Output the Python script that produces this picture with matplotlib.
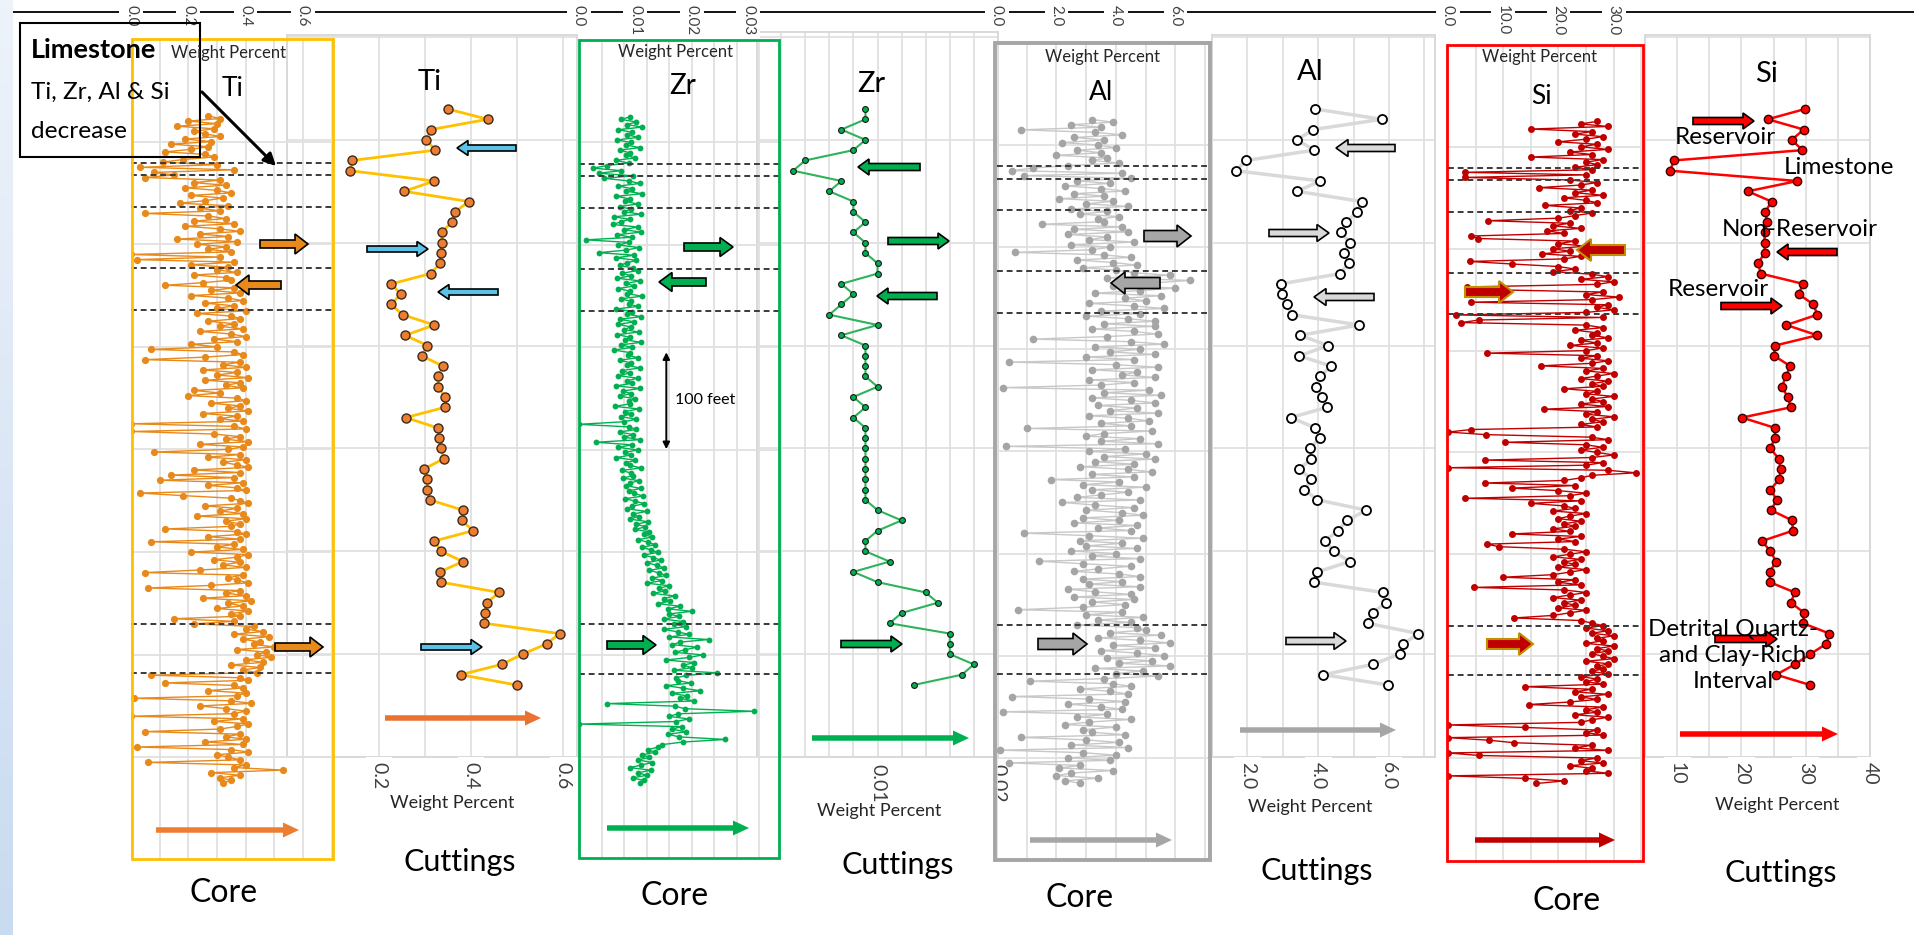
import matplotlib
matplotlib.use("Agg")
import matplotlib.pyplot as plt
import numpy as np
from matplotlib.patches import Rectangle, FancyArrow, FancyArrowPatch
from matplotlib.lines import Line2D
from matplotlib.transforms import Affine2D, blended_transform_factory

W, H = 1915, 935
plt.rcParams["font.family"] = ["Lato", "DejaVu Sans"]

# relative depth of the samples, feet
core_depth = [
    105, 107.5, 110, 112.5, 115, 117.5, 120, 122.5, 125, 127.5, 130, 132.5, 135, 137.5, 140, 142.5, 145, 147.5, 150, 152.5,
    155, 157.5, 160, 162.5, 165, 167.5, 170, 172.5, 175, 177.5, 180, 182.5, 185, 187.5, 190, 192.5, 195, 197.5, 200, 202.5,
    205, 207.5, 210, 212.5, 215, 217.5, 220, 222.5, 225, 227.5, 230, 232.5, 235, 237.5, 240, 242.5, 245, 247.5, 250, 252.5,
    255, 257.5, 260, 262.5, 265, 267.5, 270, 272.5, 275, 277.5, 280, 282.5, 285, 287.5, 290, 292.5, 295, 297.5, 300, 302.5,
    305, 307.5, 310, 312.5, 315, 317.5, 320, 322.5, 325, 327.5, 330, 332.5, 335, 337.5, 340, 342.5, 345, 347.5, 350, 352.5,
    355, 357.5, 360, 362.5, 365, 367.5, 370, 372.5, 375, 377.5, 380, 382.5, 385, 387.5, 390, 392.5, 395, 397.5, 400, 402.5,
    405, 407.5, 410, 412.5, 415, 417.5, 420, 422.5, 425, 427.5, 430, 432.5, 435, 437.5, 440, 442.5, 445, 447.5, 450, 452.5,
    455, 457.5, 460, 462.5, 465, 467.5, 470, 472.5, 475, 477.5, 480, 482.5, 485, 487.5, 490, 492.5, 495, 497.5, 500, 502.5,
    505, 507.5, 510, 512.5, 515, 517.5, 520, 522.5, 525, 527.5, 530, 532.5, 535, 537.5, 540, 542.5, 545, 547.5, 550, 552.5,
    555, 557.5, 560, 562.5, 565, 567.5, 570, 572.5, 575, 577.5, 580, 582.5, 585, 587.5, 590, 592.5, 595, 597.5, 600, 602.5,
    605, 607.5, 610, 612.5, 615, 617.5, 620, 622.5, 625, 627.5, 630, 632.5, 635, 637.5, 640, 642.5, 645, 647.5, 650, 652.5,
    655, 657.5, 660, 662.5, 665, 667.5, 670, 672.5, 675, 677.5, 680, 682.5, 685, 687.5, 690, 692.5, 695, 697.5, 700, 702.5,
    705, 707.5, 710, 712.5, 715, 717.5, 720, 722.5, 725, 727.5, 730, 732.5, 735, 737.5, 740, 742.5, 745, 747.5, 750, 752.5,
    755]
cut_depth = [100, 110, 120, 130, 140, 150, 160, 170, 180, 190, 200, 210, 220, 230, 240, 250,
             260, 270, 280, 290, 300, 310, 320, 330, 340, 350, 360, 370, 380, 390, 400, 410,
             420, 430, 440, 450, 460, 470, 480, 490, 500, 510, 520, 530, 540, 550, 560, 570,
             580, 590, 600, 610, 620, 630, 640, 650, 660]

# core, weight percent
ti_core = [
    0.27, 0.31, 0.20, 0.30, 0.16, 0.29, 0.22, 0.26, 0.31, 0.19, 0.28, 0.14, 0.27, 0.21, 0.12, 0.26, 0.29, 0.18, 0.11, 0.30,
    0.03, 0.36, 0.08, 0.15, 0.05, 0.31, 0.22, 0.33, 0.19, 0.30, 0.35, 0.21, 0.32, 0.26, 0.17, 0.34, 0.24, 0.31, 0.05, 0.27,
    0.33, 0.22, 0.36, 0.19, 0.31, 0.38, 0.24, 0.34, 0.16, 0.37, 0.23, 0.33, 0.27, 0.35, 0.00, 0.31, 0.02, 0.36, 0.21, 0.34,
    0.30, 0.37, 0.22, 0.33, 0.35, 0.25, 0.12, 0.36, 0.28, 0.38, 0.21, 0.34, 0.39, 0.26, 0.36, 0.30, 0.40, 0.23, 0.35, 0.38,
    0.27, 0.36, 0.31, 0.39, 0.24, 0.35, 0.40, 0.29, 0.37, 0.21, 0.30, 0.07, 0.36, 0.39, 0.26, 0.05, 0.38, 0.32, 0.40, 0.25,
    0.37, 0.30, 0.41, 0.26, 0.38, 0.33, 0.39, 0.22, 0.31, 0.20, 0.37, 0.40, 0.28, 0.38, 0.34, 0.41, 0.25, 0.37, 0.31, 0.39,
    0.00, 0.36, 0.40, 0.00, 0.29, 0.38, 0.33, 0.41, 0.24, 0.39, 0.34, 0.08, 0.38, 0.27, 0.40, 0.32, 0.37, 0.41, 0.22, 0.38,
    0.14, 0.36, 0.10, 0.39, 0.27, 0.37, 0.40, 0.03, 0.18, 0.35, 0.38, 0.41, 0.26, 0.37, 0.31, 0.39, 0.23, 0.40, 0.33, 0.38,
    0.35, 0.12, 0.37, 0.40, 0.27, 0.38, 0.07, 0.36, 0.30, 0.39, 0.21, 0.41, 0.37, 0.29, 0.38, 0.32, 0.40, 0.24, 0.05, 0.39,
    0.34, 0.37, 0.41, 0.28, 0.06, 0.38, 0.33, 0.40, 0.25, 0.42, 0.34, 0.39, 0.30, 0.41, 0.35, 0.38, 0.15, 0.36, 0.22, 0.43,
    0.40, 0.46, 0.36, 0.48, 0.39, 0.45, 0.43, 0.50, 0.37, 0.47, 0.44, 0.49, 0.40, 0.46, 0.35, 0.45, 0.39, 0.44, 0.07, 0.38,
    0.41, 0.12, 0.36, 0.39, 0.27, 0.40, 0.37, 0.01, 0.35, 0.42, 0.24, 0.33, 0.40, 0.36, 0.00, 0.39, 0.29, 0.41, 0.37, 0.31,
    0.05, 0.38, 0.33, 0.40, 0.26, 0.39, 0.02, 0.35, 0.41, 0.30, 0.34, 0.38, 0.06, 0.40, 0.36, 0.53, 0.28, 0.38, 0.31, 0.35,
    0.32]
zr_core = [
    .0090, .0075, .0102, .0085, .0112, .0070, .0094, .0086, .0105, .0068, .0092, .0084, .0108, .0072, .0090, .0083, .0100, .0065, .0088, .0050,
    .0025, .0075, .0035, .0095, .0045, .0088, .0108, .0070, .0094, .0084, .0112, .0066, .0090, .0082, .0104, .0072, .0092, .0080, .0110, .0062,
    .0090, .0074, .0060, .0104, .0080, .0110, .0068, .0094, .0012, .0088, .0070, .0106, .0084, .0035, .0098, .0066, .0102, .0085, .0072, .0096,
    .0105, .0076, .0092, .0068, .0108, .0084, .0098, .0070, .0090, .0086, .0112, .0074, .0092, .0088, .0104, .0066, .0094, .0086, .0110, .0072,
    .0098, .0070, .0092, .0080, .0106, .0068, .0090, .0082, .0110, .0074, .0094, .0062, .0090, .0087, .0104, .0072, .0092, .0086, .0108, .0076,
    .0090, .0070, .0104, .0086, .0094, .0066, .0108, .0078, .0092, .0072, .0100, .0088, .0090, .0064, .0106, .0082, .0092, .0074, .0102, .0080,
    .0000, .0088, .0102, .0072, .0096, .0080, .0108, .0030, .0094, .0070, .0104, .0082, .0092, .0066, .0100, .0084, .0090, .0110, .0076, .0092,
    .0096, .0078, .0106, .0090, .0084, .0110, .0088, .0098, .0114, .0082, .0100, .0116, .0094, .0086, .0120, .0096, .0106, .0090, .0122, .0102,
    .0118, .0100, .0125, .0115, .0130, .0105, .0122, .0135, .0112, .0128, .0140, .0115, .0132, .0145, .0120, .0138, .0150, .0125, .0142, .0155,
    .0130, .0148, .0120, .0160, .0142, .0152, .0132, .0170, .0150, .0162, .0140, .0180, .0158, .0200, .0160, .0178, .0150, .0185, .0168, .0190,
    .0150, .0175, .0195, .0160, .0230, .0180, .0165, .0210, .0188, .0170, .0220, .0195, .0155, .0205, .0185, .0200, .0168, .0245, .0190, .0172,
    .0175, .0198, .0155, .0185, .0215, .0165, .0192, .0180, .0205, .0050, .0170, .0188, .0310, .0175, .0160, .0195, .0172, .0000, .0182, .0165,
    .0190, .0158, .0178, .0260, .0185, .0148, .0140, .0122, .0135, .0112, .0125, .0105, .0130, .0110, .0090, .0128, .0105, .0120, .0095, .0115,
    .0108]
al_core = [
    3.2, 3.9, 2.5, 3.5, 0.8, 3.3, 4.2, 2.6, 3.6, 2.2, 3.4, 4.0, 2.7, 3.5, 2.0, 3.7, 3.2, 4.1, 2.4, 1.2,
    0.5, 4.2, 0.9, 4.5, 2.7, 3.8, 2.3, 3.5, 4.3, 2.6, 3.6, 2.1, 3.9, 3.0, 4.4, 2.5, 3.7, 2.8, 4.1, 3.4,
    3.6, 1.5, 4.2, 2.6, 4.4, 2.4, 3.7, 3.1, 4.6, 2.5, 3.8, 3.2, 0.6, 3.6, 4.5, 2.7, 3.9, 4.7, 2.9, 4.0,
    4.6, 5.8, 3.7, 6.5, 5.2, 3.9, 6.0, 4.8, 3.3, 5.5, 4.3, 5.0, 3.1, 4.6, 5.6, 3.5, 4.8, 3.0, 4.4, 5.3,
    3.6, 5.3, 3.2, 4.6, 5.4, 3.7, 1.2, 4.5, 5.6, 3.3, 4.8, 3.8, 5.3, 3.0, 4.6, 0.4, 4.0, 5.4, 3.2, 4.7,
    4.2, 5.3, 3.1, 4.6, 3.5, 0.2, 5.1, 3.6, 5.5, 3.2, 4.5, 5.3, 3.4, 4.7, 3.8, 5.4, 3.1, 4.4, 5.1, 3.5,
    4.5, 1.0, 5.2, 3.6, 3.0, 4.8, 3.5, 5.4, 0.3, 4.3, 3.1, 5.0, 3.6, 5.3, 3.3, 4.6, 2.8, 4.4, 5.2, 3.2,
    4.6, 1.8, 4.1, 2.9, 5.0, 3.2, 4.4, 3.5, 2.7, 4.8, 2.2, 3.3, 4.6, 3.0, 4.2, 4.9, 2.9, 4.1, 2.6, 4.7,
    3.4, 4.5, 0.9, 3.1, 4.9, 2.8, 4.2, 3.0, 4.7, 2.5, 4.0, 3.2, 4.8, 1.4, 2.9, 4.5, 3.4, 2.6, 4.1, 4.8,
    2.9, 4.2, 3.1, 4.8, 2.4, 3.3, 4.5, 2.6, 4.6, 3.2, 4.3, 2.9, 0.7, 4.2, 3.0, 4.9, 3.4, 4.5, 2.7, 4.7,
    5.0, 3.8, 5.5, 3.4, 4.8, 5.8, 3.9, 5.3, 3.5, 4.7, 5.6, 3.7, 5.2, 4.1, 5.8, 3.3, 4.9, 4.0, 5.4, 3.6,
    1.1, 3.9, 4.5, 2.8, 3.8, 4.4, 0.5, 3.1, 4.3, 2.4, 3.5, 4.2, 0.2, 3.7, 2.7, 4.5, 3.1, 2.3, 4.0, 2.9,
    3.2, 4.3, 0.8, 3.0, 4.1, 2.5, 4.4, 0.1, 2.9, 4.0, 2.4, 3.8, 0.4, 2.8, 2.1, 3.9, 2.5, 2.0, 3.4, 2.3,
    2.8]
si_core = [
    27, 24, 29, 15, 26, 23, 28, 25, 20, 27, 24, 29, 22, 26, 15, 28, 25, 27, 23, 26,
    3, 25, 3, 22, 27, 24, 16.5, 26, 23, 28, 21, 25, 27, 17.6, 24, 22, 26, 23, 20, 7.3,
    22, 19, 24, 18, 21, 4.1, 5.5, 23, 20, 25, 19, 22, 17, 24, 21, 3.9, 11.6, 20, 23, 19,
    26, 29, 24, 30, 27, 3.5, 5.6, 28, 25, 31, 26, 4.2, 29, 27, 30, 25, 1.5, 28, 5.6, 2.4,
    25, 28, 23, 27, 26, 29, 24, 27, 22, 28, 25, 7.1, 27, 24, 29, 26, 16.8, 28, 25, 30,
    27, 24, 29, 26, 28, 21, 27, 25, 30, 26, 28, 24, 29, 17.4, 27, 25, 30, 26, 28, 24,
    27, 4.2, 0, 6.8, 26, 29, 10.4, 25, 28, 24, 27, 30, 26, 6.7, 28, 25, 0, 29, 34, 26,
    24, 21, 6.7, 23, 11.5, 20, 25, 22, 3.1, 24, 15, 21, 23, 19, 25, 22, 20, 24, 21, 23,
    19, 22, 11.5, 24, 20, 23, 7, 9.2, 21, 25, 22, 19, 24, 21, 23, 20, 25, 22, 19, 10,
    23, 20, 24, 4.7, 21, 25, 22, 19, 24, 21, 23, 20, 25, 22, 19, 12, 24, 26, 28, 25,
    29, 26, 30, 27, 28, 25, 30, 27, 29, 26, 28, 30, 25, 29, 27, 28, 26, 29, 24, 27,
    25, 28, 14, 26, 23, 29, 24, 27, 22, 14.6, 28, 25, 27, 23, 29, 26, 24, 0, 14, 27,
    25, 28, 0, 7.4, 12, 26, 23, 29, 0, 5.6, 27, 24, 28, 22, 26, 25, 29, 0, 14, 21,
    16]

# cuttings, weight percent
ti_cut = [0.349, 0.436, 0.313, 0.303, 0.322, 0.142, 0.137, 0.320, 0.255, 0.395,
          0.365, 0.358, 0.336, 0.336, 0.334, 0.333, 0.312, 0.227, 0.247, 0.226,
          0.251, 0.320, 0.257, 0.305, 0.293, 0.339, 0.328, 0.328, 0.344, 0.343,
          0.258, 0.327, 0.331, 0.334, 0.341, 0.297, 0.305, 0.305, 0.310, 0.382,
          0.380, 0.404, 0.320, 0.335, 0.382, 0.332, 0.334, 0.461, 0.434, 0.431,
          0.429, 0.592, 0.564, 0.512, 0.466, 0.377, 0.499]
zr_cut = [0.009, 0.009, 0.007, 0.009, 0.008, 0.004, 0.003, 0.007, 0.006, 0.008,
          0.008, 0.009, 0.008, 0.009, 0.009, 0.010, 0.010, 0.007, 0.008, 0.007,
          0.006, 0.010, 0.007, 0.009, 0.009, 0.009, 0.009, 0.010, 0.008, 0.009,
          0.008, 0.009, 0.009, 0.009, 0.009, 0.009, 0.009, 0.009, 0.009, 0.010,
          0.012, 0.010, 0.009, 0.009, 0.011, 0.008, 0.010, 0.014, 0.015, 0.012,
          0.011, 0.016, 0.016, 0.016, 0.018, 0.017, 0.013]
al_cut = [3.91, 5.80, 3.86, 3.40, 3.89, 1.97, 1.67, 4.06, 3.40, 5.23,
          5.10, 4.79, 4.65, 4.89, 4.73, 4.86, 4.63, 2.96, 2.97, 3.11,
          3.25, 5.16, 3.49, 4.28, 3.47, 4.37, 4.05, 3.95, 4.11, 4.25,
          3.23, 3.92, 4.05, 3.76, 3.81, 3.47, 3.81, 3.61, 3.98, 5.36,
          4.82, 4.55, 4.19, 4.44, 4.89, 3.98, 3.88, 5.82, 5.91, 5.54,
          5.40, 6.83, 6.41, 6.30, 5.54, 4.15, 5.97]
si_cut = [29.9, 24.1, 29.7, 27.8, 29.5, 9.5, 8.9, 28.7, 21.0, 24.7,
          23.7, 24.0, 23.6, 23.6, 23.6, 22.6, 23.0, 29.6, 28.9, 31.2,
          31.8, 27.0, 31.8, 25.2, 25.1, 27.6, 26.9, 26.3, 27.2, 27.7,
          20.1, 25.2, 25.2, 24.5, 25.8, 26.1, 25.9, 24.5, 25.5, 24.6,
          27.9, 28.0, 23.2, 24.5, 25.4, 24.4, 24.4, 28.3, 27.7, 29.8,
          29.6, 33.7, 33.2, 30.7, 28.3, 25.4, 30.7]

# interval boundaries (dashed lines) and 100 ft grid
boundaries = [150.6, 163, 194, 253.6, 294.5, 600, 648.3]
grid_depths = [30, 130, 230, 330, 430, 530, 630, 730]

TOP_PX, FT_PX = 109, 1.0286


def depth_at(ypx):
    return 100 + (ypx - TOP_PX) / FT_PX


fig = plt.figure(figsize=(W / 100, H / 100), dpi=100)
PX = Affine2D().scale(1 / W, -1 / H).translate(0, 1) + fig.transFigure


def ftext(x, y, s, size, **kw):
    kw.setdefault("ha", "center")
    kw.setdefault("va", "center")
    kw.setdefault("color", "black")
    fig.text(x, y, s, transform=PX, fontsize=size, zorder=8, **kw)


def panel(x0, x1, y0, y1, xlim, xgrid, frame=False):
    ax = fig.add_axes([x0 / W, 1 - y1 / H, (x1 - x0) / W, (y1 - y0) / H])
    ax.set_xlim(*xlim)
    ax.set_ylim(depth_at(y1), depth_at(y0))
    ax.set_xticks(xgrid)
    ax.set_yticks(grid_depths)
    ax.grid(True, color="#e0e0e0", lw=1.3)
    ax.set_axisbelow(True)
    ax.tick_params(length=0, labelbottom=False, labelleft=False)
    ax.patch.set_alpha(0)
    for s in ax.spines.values():
        s.set_visible(frame)
        s.set_color("#d9d9d9")
        s.set_linewidth(1.4)
    return ax


def tick_labels(ax, ticks, labels, ypx, size):
    tr = blended_transform_factory(ax.transData, PX)
    for t, lab in zip(ticks, labels):
        ax.text(t, ypx, lab, transform=tr, rotation=270, ha="center", va="top",
                fontsize=size, color="#404040", clip_on=False,
                bbox=dict(fc="white", ec="none", pad=3.5))


def core_plot(ax, vals, line_c, dot_c, ms):
    ax.plot(vals, core_depth, color=line_c, lw=1.0, marker="o", ms=ms, mfc=dot_c,
            mec=dot_c, mew=0, zorder=3)
    for d in boundaries:
        ax.axhline(d, color="#3a3a3a", lw=1.4, ls=(0, (3, 2)), zorder=4)


def block_arrow(x0, x1, y, fc, ec="black", shaft=7, head=17, hlen=12, lw=1.2):
    a = FancyArrow(x0, y, x1 - x0, 0, width=shaft, head_width=head, head_length=hlen,
                   length_includes_head=True, fc=fc, ec=ec, lw=lw, transform=PX, zorder=6)
    fig.add_artist(a)


def plain_arrow(x0, x1, y, color):
    block_arrow(x0, x1, y, color, ec="none", shaft=5.5, head=15, hlen=16, lw=0)


def core_box(x0, x1, y0, y1, color, lw=2):
    fig.add_artist(Rectangle((x0, y0), x1 - x0, y1 - y0, fill=False, ec=color, lw=lw,
                             transform=PX, zorder=4))


# pale strip on the left edge
strip = fig.add_axes([0, 0, 13 / W, 1])
strip.imshow(np.linspace(0, 1, 100).reshape(-1, 1), cmap=matplotlib.colors.LinearSegmentedColormap.from_list(
    "s", ["#eef3fa", "#c9dbf1"]), aspect="auto", extent=(0, 1, 0, 1))
strip.axis("off")

# black line along the top
fig.add_artist(Line2D([0, W], [12, 12], color="black", lw=1.3, transform=PX, zorder=-1))

# ---------- Ti ----------
ax = panel(287, 577, 35, 757, (0, 0.63), np.arange(0, 0.61, 0.1), frame=True)
ax.plot(ti_cut, cut_depth, color="#FFC000", lw=2, marker="o", ms=6.5, mfc="#ED7D31",
        mec="#3b2a1c", mew=1, zorder=3)
tick_labels(ax, [0.2, 0.4, 0.6], ["0.2", "0.4", "0.6"], 762, 14)

ax = panel(131, 333, 39, 859, (0, 0.705), np.arange(0, 0.71, 0.1))
core_plot(ax, ti_core, "#E8891B", "#E8891B", 5.2)
tick_labels(ax, [0, 0.2, 0.4, 0.6], ["0.0", "0.2", "0.4", "0.6"], 5, 11)
core_box(132, 333, 39, 859, "#FFC000")

# ---------- Zr ----------
ax = panel(757, 998, 32, 757, (0, 0.02), np.arange(0, 0.0201, 0.002), frame=True)
ax.plot(zr_cut, cut_depth, color="#2DB35A", lw=1.5, marker="o", ms=4.2, mfc="#00B050",
        mec="#1a1a1a", mew=0.8, zorder=3)
tick_labels(ax, [0.01, 0.02], ["0.01", "0.02"], 764, 14)

ax = panel(579, 779, 40, 858, (0, 0.0355), np.arange(0, 0.0355, 0.004))
core_plot(ax, zr_core, "#00B050", "#00B050", 4.2)
tick_labels(ax, [0, 0.01, 0.02, 0.03], ["0.0", "0.01", "0.02", "0.03"], 5, 11)
ax.annotate("", xy=(0.0155, 332), xytext=(0.0155, 432),
            arrowprops=dict(arrowstyle="<|-|>", color="black", lw=1.4, mutation_scale=10))
core_box(579, 779, 40, 858, "#00B050")

# ---------- Al ----------
ax = panel(1212, 1435, 35, 757, (1.0, 7.3), np.arange(1, 7.1, 1.0), frame=True)
ax.plot(al_cut, cut_depth, color="#d9d9d9", lw=2.5, marker="o", ms=6.5, mfc="white",
        mec="black", mew=1.3, zorder=3)
tick_labels(ax, [2, 4, 6], ["2.0", "4.0", "6.0"], 762, 14)

ax = panel(997, 1210, 43, 860, (0, 7.16), np.arange(0, 7.1, 1.0))
core_plot(ax, al_core, "#C8C8C8", "#A5A5A5", 5.5)
tick_labels(ax, [0, 2, 4, 6], ["0.0", "2.0", "4.0", "6.0"], 5, 11)
core_box(995, 1210, 43, 860, "#A6A6A6", lw=2.8)

# ---------- Si ----------
ax = panel(1645, 1870, 35, 757, (5, 40), np.arange(5, 41, 5), frame=True)
ax.plot(si_cut, cut_depth, color="#FF0000", lw=1.8, marker="o", ms=6, mfc="#FF0000",
        mec="#3a0000", mew=1, zorder=3)
tick_labels(ax, [10, 20, 30, 40], ["10", "20", "30", "40"], 762, 14)

ax = panel(1448, 1643, 45, 861, (0, 35.3), np.arange(0, 35.1, 5))
core_plot(ax, si_core, "#C00000", "#C00000", 5)
tick_labels(ax, [0, 10, 20, 30], ["0.0", "10.0", "20.0", "30.0"], 5, 11)
core_box(1447, 1643, 45, 861, "#FF0000")

# ---------- titles and labels ----------
for x, y in [(229, 53), (676, 52), (1103, 57), (1540, 57)]:
    ftext(x, y, "Weight Percent", 12, color="#262626")
ftext(233, 88, "Ti", 19)
ftext(683, 86, "Zr", 20)
ftext(1101, 93, "Al", 19)
ftext(1541, 96, "Si", 19)
ftext(430, 82, "Ti", 21)
ftext(871, 84, "Zr", 21)
ftext(1310, 72, "Al", 21)
ftext(1766, 74, "Si", 21)

for x, y in [(452, 803), (879, 811), (1310, 807), (1777, 805)]:
    ftext(x, y, "Weight Percent", 13, color="#262626")
for x, y in [(460, 862), (898, 865), (1317, 871), (1781, 873)]:
    ftext(x, y, "Cuttings", 22)
for x, y in [(224, 893), (675, 896), (1080, 898), (1567, 901)]:
    ftext(x, y, "Core", 23)

ftext(675, 400, "100 feet", 11.5, ha="left")

# limestone note
fig.add_artist(Rectangle((20, 23), 180, 134, fill=False, ec="black", lw=1.5, transform=PX, zorder=7))
ftext(31, 50, "Limestone", 19.5, ha="left", weight="bold")
ftext(31, 92, "Ti, Zr, Al & Si", 17.6, ha="left")
ftext(31, 131, "decrease", 17.6, ha="left")
fig.add_artist(FancyArrowPatch((200, 90), (278, 168), arrowstyle="-|>", mutation_scale=18,
                               color="black", lw=2.2, transform=PX, zorder=7))

# interval names beside the Si cuttings
ftext(1725, 138, "Reservoir", 17.5)
ftext(1839, 168, "Limestone", 17.5)
ftext(1800, 230, "Non-Reservoir", 17.5)
ftext(1718, 290, "Reservoir", 17.5)
ftext(1733, 655, "Detrital Quartz-\nand Clay-Rich\nInterval", 17.5, linespacing=1.3)

# ---------- block arrows ----------
# Ti core
block_arrow(260, 308, 244, "#E8891B", shaft=8, head=20, hlen=13)
block_arrow(281, 236, 285, "#E8891B", shaft=8, head=20, hlen=13)
block_arrow(275, 323, 647, "#E8891B", shaft=8, head=20, hlen=13)
# Ti cuttings
block_arrow(516, 457, 148, "#5BC2E7", shaft=6, head=15, hlen=11)
block_arrow(367, 428, 249, "#5BC2E7", shaft=6, head=15, hlen=11)
block_arrow(498, 438, 292, "#5BC2E7", shaft=6, head=15, hlen=11)
block_arrow(421, 482, 647, "#5BC2E7", shaft=6, head=15, hlen=11)
# Zr core
block_arrow(684, 733, 247, "#00B050", shaft=8, head=19, hlen=13)
block_arrow(706, 659, 282, "#00B050", shaft=8, head=19, hlen=13)
block_arrow(607, 656, 645, "#00B050", shaft=8, head=19, hlen=13)
# Zr cuttings
block_arrow(920, 858, 167, "#00B050", shaft=7, head=16, hlen=11)
block_arrow(888, 949, 241, "#00B050", shaft=7, head=16, hlen=11)
block_arrow(937, 877, 296, "#00B050", shaft=7, head=16, hlen=11)
block_arrow(841, 902, 644, "#00B050", shaft=7, head=16, hlen=11)
# Al core
block_arrow(1144, 1191, 236, "#A6A6A6", shaft=11, head=22, hlen=14)
block_arrow(1160, 1111, 283, "#A6A6A6", shaft=11, head=22, hlen=14)
block_arrow(1038, 1087, 644, "#A6A6A6", shaft=11, head=22, hlen=14)
# Al cuttings
block_arrow(1395, 1336, 148, "#D9D9D9", shaft=7, head=17, hlen=12)
block_arrow(1269, 1329, 233, "#D9D9D9", shaft=7, head=17, hlen=12)
block_arrow(1374, 1314, 297, "#D9D9D9", shaft=7, head=17, hlen=12)
block_arrow(1286, 1346, 641, "#D9D9D9", shaft=7, head=17, hlen=12)
# Si core
block_arrow(1625, 1577, 250, "#C00000", ec="#BF9000", shaft=10, head=22, hlen=14, lw=1.5)
block_arrow(1465, 1513, 292, "#C00000", ec="#BF9000", shaft=10, head=22, hlen=14, lw=1.5)
block_arrow(1487, 1533, 644, "#C00000", ec="#BF9000", shaft=10, head=22, hlen=14, lw=1.5)
# Si cuttings
block_arrow(1693, 1754, 121, "#FF0000", shaft=7, head=16, hlen=11)
block_arrow(1837, 1777, 252, "#FF0000", shaft=7, head=16, hlen=11)
block_arrow(1721, 1782, 306, "#FF0000", shaft=7, head=16, hlen=11)
block_arrow(1715, 1777, 639, "#FF0000", shaft=7, head=16, hlen=11)

# increasing-value arrows at the bottom
plain_arrow(156, 299, 830, "#ED7D31")
plain_arrow(385, 541, 718, "#E97132")
plain_arrow(607, 749, 828, "#00B050")
plain_arrow(812, 969, 738, "#00B050")
plain_arrow(1030, 1172, 840, "#A6A6A6")
plain_arrow(1240, 1396, 730, "#A6A6A6")
plain_arrow(1475, 1615, 840, "#C00000")
plain_arrow(1680, 1838, 734, "#FF0000")

fig.savefig("out.png", dpi=100)
